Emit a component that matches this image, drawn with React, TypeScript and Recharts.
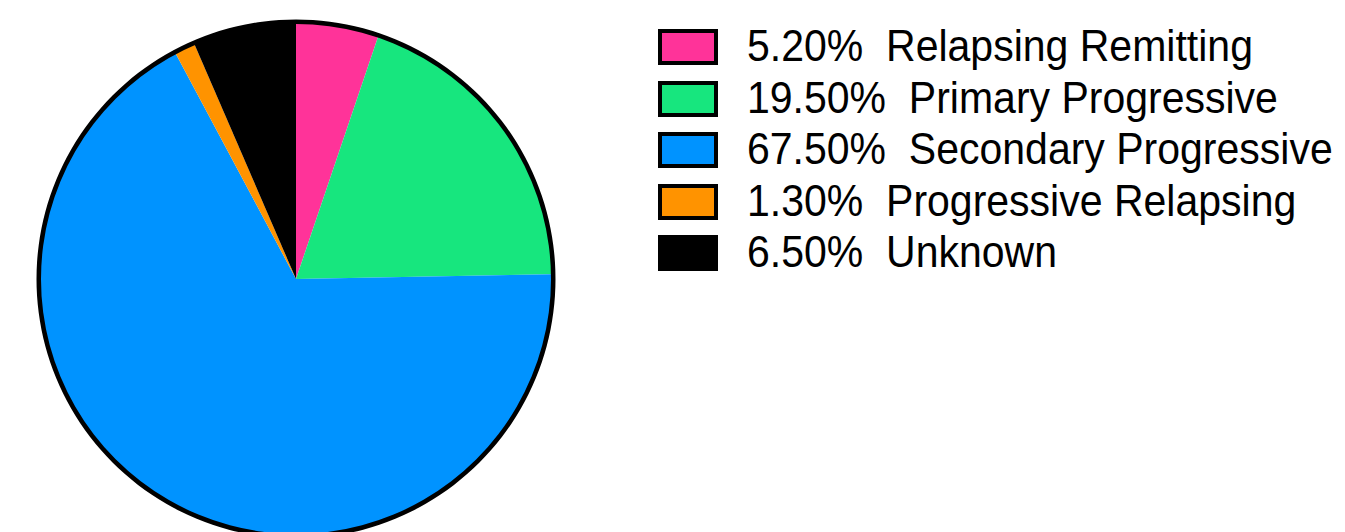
import { PieChart, Pie, Cell, Legend } from 'recharts';

const LABELS = ['Relapsing Remitting', 'Primary Progressive', 'Secondary Progressive', 'Progressive Relapsing', 'Unknown'];
const VALUES = [5.2, 19.5, 67.5, 1.3, 6.5];
const COLORS = ['#FF3399', '#17E67E', '#0093FF', '#FF9300', '#000000'];

const data = LABELS.map((name, i) => ({ name, value: VALUES[i] }));
const ring = [{ name: 'ring', value: 1 }];

const FONT = '"Liberation Sans", Arial, Helvetica, sans-serif';

function LegendBox() {
  return (
    <div style={{ fontFamily: FONT, fontSize: 41, color: '#000' }}>
      {data.map((d, i) => (
        <div key={d.name} style={{ display: 'flex', alignItems: 'center', height: 51.5, lineHeight: '51.5px', whiteSpace: 'pre' }}>
          <div
            style={{
              width: 60,
              height: 36,
              boxSizing: 'border-box',
              border: '4.5px solid #000',
              background: COLORS[i],
              marginRight: 29,
              flexShrink: 0,
            }}
          />
          <span style={{ display: 'inline-block', transform: 'scaleY(1.07)' }}>{`${d.value.toFixed(2)}%  ${d.name}`}</span>
        </div>
      ))}
    </div>
  );
}

export default function App() {
  return (
    <div style={{ position: 'absolute', left: 0, top: 0, width: 1345, height: 532, background: '#fff' }}>
      <PieChart width={1345} height={532} margin={{ top: 0, right: 0, bottom: 0, left: 0 }}>
        <Pie
          data={data}
          dataKey="value"
          cx={296}
          cy={279}
          outerRadius={256}
          startAngle={90}
          endAngle={-270}
          stroke="none"
          isAnimationActive={false}
        >
          {data.map((d, i) => (
            <Cell key={d.name} fill={COLORS[i]} stroke="none" />
          ))}
        </Pie>
        <Pie
          data={ring}
          dataKey="value"
          cx={296}
          cy={279}
          innerRadius={255}
          outerRadius={259.5}
          startAngle={90}
          endAngle={-270}
          fill="#000"
          stroke="none"
          isAnimationActive={false}
        />
        <Legend
          content={() => <LegendBox />}
          wrapperStyle={{ position: 'absolute', left: 658, top: 21.25, width: 687 }}
        />
      </PieChart>
    </div>
  );
}
